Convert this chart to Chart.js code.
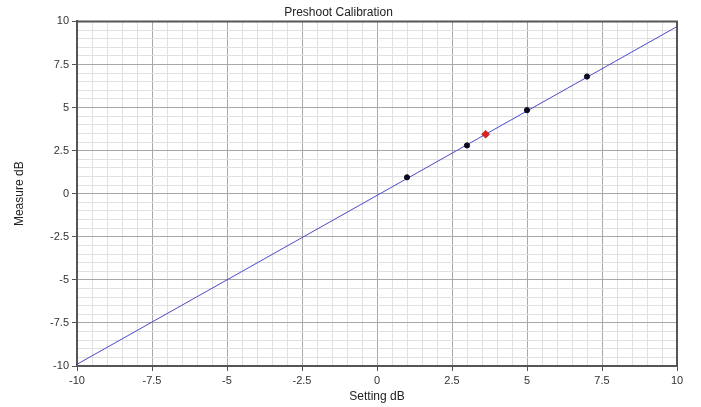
<!DOCTYPE html>
<html>
<head>
<meta charset="utf-8">
<script src="https://cdn.jsdelivr.net/npm/chart.js@4"></script>
<style>
html,body{margin:0;padding:0;background:#fff;}
#wrap{width:701px;height:407px;}
</style>
</head>
<body>
<div id="wrap"><canvas id="c" width="701" height="407"></canvas></div>
<script>
const chartTitle = "Preshoot Calibration";
const xTitle = "Setting dB";
const yTitle = "Measure dB";
const calSettings = [1, 3, 5, 7];
const calMeasures = [0.95, 2.8, 4.85, 6.8];
const currentSetting = [3.62];
const currentMeasure = [3.45];
const fitX = [-10, 10];
const fitY = [-9.9, 9.7];
const axisMin = -10, axisMax = 10, majorStep = 2.5, minorStep = 0.5;

const toPts = (xs, ys) => xs.map((x, i) => ({x: x, y: ys[i]}));
const isMajor = v => Math.abs(v / majorStep - Math.round(v / majorStep)) < 1e-6;
const fmt = v => { const r = Math.round(v * 100) / 100; return String(r); };
const gridColor = ctx => (ctx.tick && isMajor(ctx.tick.value)) ? '#a8a8a8' : '#e0e0e0';
const tickColor = ctx => (ctx.tick && isMajor(ctx.tick.value)) ? '#555' : 'rgba(0,0,0,0)';
const font = {family: 'Liberation Sans, Arial, sans-serif', size: 11};

new Chart(document.getElementById('c'), {
  type: 'scatter',
  data: {
    datasets: [
      {type: 'line', data: toPts(fitX, fitY), borderColor: '#4a4ac8', borderWidth: 1, pointRadius: 0, fill: false, order: 3},
      {data: toPts(calSettings, calMeasures), backgroundColor: '#0a0a1e', borderColor: '#0a0a1e', pointRadius: 2.6, pointStyle: 'circle', order: 2},
      {data: toPts(currentSetting, currentMeasure), backgroundColor: '#e02020', borderColor: '#901010', borderWidth: 0.5, pointRadius: 4, pointStyle: 'rectRot', order: 1}
    ]
  },
  options: {
    responsive: false,
    animation: false,
    layout: {padding: {left: 0, right: 24, top: 0, bottom: 0}},
    plugins: {
      legend: {display: false},
      tooltip: {enabled: false},
      title: {display: true, text: chartTitle, color: '#222', font: {family: font.family, size: 12, weight: 'normal'}, padding: {top: 5, bottom: 2}}
    },
    scales: {
      x: {
        type: 'linear', min: axisMin, max: axisMax,
        afterFit: s => { s.height = 41; },
        afterBuildTicks: s => { const t = []; for (let v = axisMin; v <= axisMax + 1e-9; v += minorStep) t.push({value: Math.round(v * 10) / 10}); s.ticks = t; },
        ticks: {autoSkip: false, maxRotation: 0, color: '#333', font: font, padding: 3, callback: v => isMajor(v) ? fmt(v) : ''},
        grid: {color: gridColor, tickColor: tickColor, tickLength: 5, lineWidth: 1},
        border: {display: true, color: '#555', width: 2},
        title: {display: true, text: xTitle, color: '#222', font: {family: font.family, size: 12}, padding: {top: 0, bottom: 3}}
      },
      y: {
        type: 'linear', min: axisMin, max: axisMax,
        afterFit: s => { s.width = 77; },
        afterBuildTicks: s => { const t = []; for (let v = axisMin; v <= axisMax + 1e-9; v += minorStep) t.push({value: Math.round(v * 10) / 10}); s.ticks = t; },
        ticks: {autoSkip: false, color: '#333', font: font, padding: 3, callback: v => isMajor(v) ? fmt(v) : ''},
        grid: {color: gridColor, tickColor: tickColor, tickLength: 5, lineWidth: 1},
        border: {display: true, color: '#555', width: 2},
        title: {display: true, text: yTitle, color: '#222', font: {family: font.family, size: 12}, padding: {top: 12, bottom: 0}}
      }
    }
  },
  plugins: [{
    id: 'frame',
    afterDraw(chart) {
      const a = chart.chartArea, c = chart.ctx;
      c.save(); c.strokeStyle = '#555'; c.lineWidth = 2;
      c.beginPath(); c.moveTo(a.left, a.top); c.lineTo(a.right, a.top); c.lineTo(a.right, a.bottom); c.stroke();
      c.restore();
    }
  }]
});
</script>
</body>
</html>
